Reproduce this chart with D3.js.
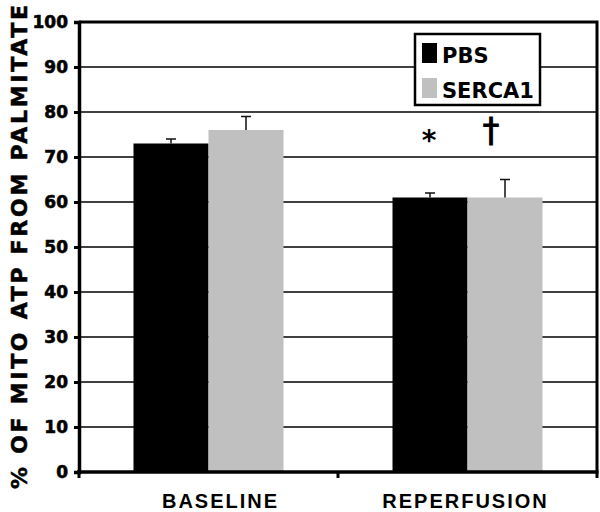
<!DOCTYPE html>
<html><head><meta charset="utf-8">
<script src="https://cdnjs.cloudflare.com/ajax/libs/d3/7.8.5/d3.min.js"></script>
<style>body{margin:0;background:#fff}</style>
</head><body>
<svg id="c" width="600" height="512"></svg>
<script>
const categories = ["BASELINE", "REPERFUSION"];
const seriesNames = ["PBS", "SERCA1"];
const pbsValues = [73, 61];
const pbsErrors = [1, 1];
const sercaValues = [76, 61];
const sercaErrors = [3, 4];
const yTicks = [0, 10, 20, 30, 40, 50, 60, 70, 80, 90, 100];
const seriesColors = ["#000000", "#c0c0c0"];
const annotations = [{cat: "REPERFUSION", series: "PBS", text: "*"}, {cat: "REPERFUSION", series: "SERCA1", text: "†"}];

const svg = d3.select("#c");
const L = 79, R = 597, T = 22, B = 472;
const y = d3.scaleLinear().domain([0, 100]).range([B, T]);
const x = d3.scaleBand().domain(categories).range([L, R]).padding(0);
const x1 = d3.scaleBand().domain(seriesNames).range([0, 150]);
const groupOff = (x.bandwidth() - 150) / 2;

const data = categories.map((c, i) => ({cat: c, vals: [
  {s: "PBS", v: pbsValues[i], e: pbsErrors[i]},
  {s: "SERCA1", v: sercaValues[i], e: sercaErrors[i]}]}));

// gridlines
svg.append("g").selectAll("line").data(yTicks.filter(t => t > 0 && t < 100)).join("line")
  .attr("x1", L).attr("x2", R).attr("y1", d => y(d)).attr("y2", d => y(d))
  .attr("stroke", "#000").attr("stroke-width", 1.3);

// bars
const g = svg.append("g").selectAll("g").data(data).join("g")
  .attr("transform", d => `translate(${x(d.cat) + groupOff},0)`);
g.selectAll("rect").data(d => d.vals).join("rect")
  .attr("x", d => x1(d.s)).attr("width", x1.bandwidth())
  .attr("y", d => y(d.v)).attr("height", d => B - y(d.v))
  .attr("fill", (d, i) => seriesColors[i]);
// error bars
g.selectAll("path.err").data(d => d.vals).join("path").attr("class", "err")
  .attr("d", d => {
    const cx = x1(d.s) + x1.bandwidth() / 2;
    return `M${cx},${y(d.v)}V${y(d.v + d.e)}M${cx - 5},${y(d.v + d.e)}H${cx + 5}`;
  })
  .attr("stroke", "#111").attr("stroke-width", 1.5).attr("fill", "none");

// frame: top and right
svg.append("path").attr("d", `M${L},${T}H${R}V${B}`).attr("stroke", "#000").attr("stroke-width", 3).attr("fill", "none");

// y axis
const ya = svg.append("g").attr("transform", `translate(${L},0)`)
  .call(d3.axisLeft(y).tickValues(yTicks).tickSize(5).tickPadding(6));
ya.select(".domain").attr("stroke-width", 3.5);
ya.selectAll(".tick line").attr("stroke-width", 3);
ya.selectAll("text").style("font-family", "'DejaVu Sans'").style("font-weight", "bold").style("font-size", "17px")
  .attr("fill", "#000").attr("stroke", "#000").attr("stroke-width", 0.6);

// x axis (ticks between categories)
const xa = svg.append("g").attr("transform", `translate(0,${B})`);
xa.append("line").attr("x1", L - 2).attr("x2", R + 1.5).attr("stroke", "#000").attr("stroke-width", 3.5);
xa.selectAll("line.t").data([L, ...categories.map(c => x(c) + x.bandwidth())]).join("line").attr("class", "t")
  .attr("x1", d => d).attr("x2", d => d).attr("y1", 0).attr("y2", 6).attr("stroke", "#000").attr("stroke-width", 3);
xa.selectAll("text").data(categories).join("text")
  .attr("x", d => x(d) + x.bandwidth() / 2 + (d === "BASELINE" ? 12 : -2)).attr("y", 36)
  .attr("text-anchor", "middle").style("font-family", "'Liberation Sans', Arial").style("font-weight", "bold")
  .style("font-size", "20px").attr("letter-spacing", 2).text(d => d);

// y label
svg.append("text").attr("transform", "translate(27,247) rotate(-90)")
  .attr("text-anchor", "middle").style("font-family", "'DejaVu Sans'").style("font-weight", "bold")
  .style("font-size", "22px").attr("textLength", 484).attr("lengthAdjust", "spacing")
  .attr("stroke", "#000").attr("stroke-width", 0.5)
  .text("% OF MITO ATP FROM PALMITATE");

// annotations
svg.selectAll("text.ann").data(annotations).join("text").attr("class", "ann")
  .attr("x", d => x(d.cat) + groupOff + x1(d.series) + x1.bandwidth() / 2 + (d.series === "PBS" ? -1 : -14))
  .attr("y", d => d.text === "*" ? 150 : 142)
  .attr("text-anchor", "middle").style("font-family", "'DejaVu Sans'")
  .style("font-weight", d => d.text === "*" ? "bold" : "normal")
  .attr("stroke", "#000").attr("stroke-width", d => d.text === "*" ? 0 : 1)
  .style("font-size", d => d.text === "*" ? "28px" : "33px").text(d => d.text);

// legend
const lg = svg.append("g").attr("transform", "translate(415,34)");
lg.append("rect").attr("width", 125).attr("height", 71).attr("fill", "#fff").attr("stroke", "#000").attr("stroke-width", 2.5);
seriesNames.forEach((s, i) => {
  lg.append("rect").attr("x", 7).attr("y", 9 + i * 35).attr("width", 15).attr("height", 20).attr("fill", seriesColors[i]);
  lg.append("text").attr("x", 27).attr("y", 29 + i * 35).style("font-family", "'DejaVu Sans'").style("font-weight", "bold")
    .style("font-size", "21px").text(s);
});
</script>
</body></html>
